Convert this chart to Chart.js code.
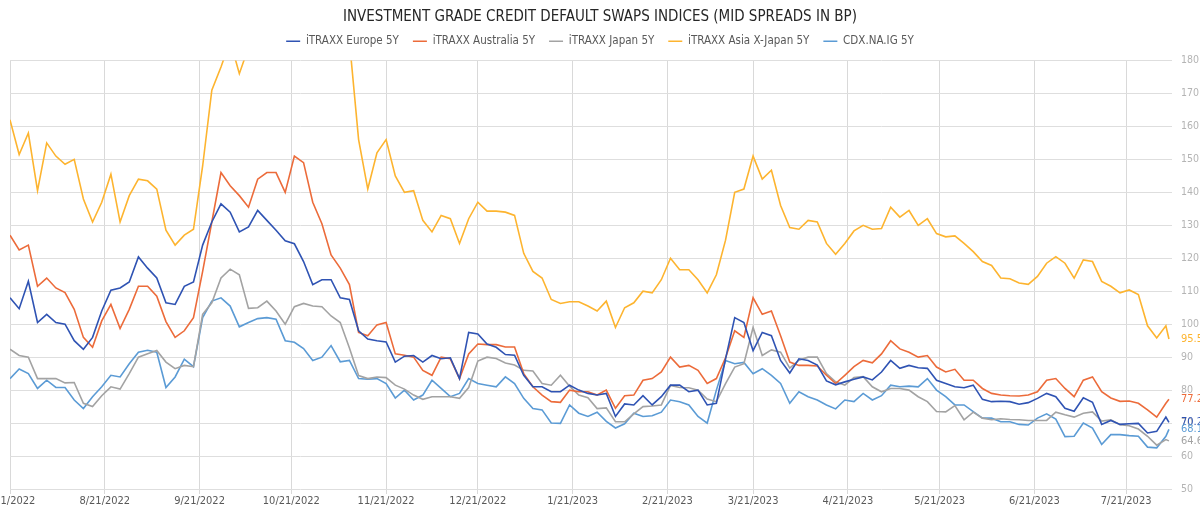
<!DOCTYPE html>
<html>
<head>
<meta charset="utf-8">
<title>Investment Grade CDS Indices</title>
<script src="https://cdn.jsdelivr.net/npm/chart.js@4.4.1/dist/chart.umd.min.js"></script>
<style>
  html, body { margin: 0; padding: 0; background: #fff; overflow: hidden; }
  /* canvas is a bit wider than the window so the first date label gets cut like in the source */
  #wrap { position: absolute; left: -40px; top: 0; width: 1240px; height: 512px; }
</style>
</head>
<body>
<div id="wrap"><canvas id="cdsChart"></canvas></div>
<script>
// days since 7/21/2022
const days = [0, 3, 6, 9, 12, 15, 18, 21, 24, 27, 30, 33, 36, 39, 42, 45, 48, 51, 54, 57,
  60, 63, 66, 69, 72, 75, 78, 81, 84, 87, 90, 93, 96, 99, 102, 105, 108, 111, 114, 117,
  120, 123, 126, 129, 132, 135, 138, 141, 144, 147, 150, 153, 156, 159, 162, 165, 168, 171, 174, 177,
  180, 183, 186, 189, 192, 195, 198, 201, 204, 207, 210, 213, 216, 219, 222, 225, 228, 231, 234, 237,
  240, 243, 246, 249, 252, 255, 258, 261, 264, 267, 270, 273, 276, 279, 282, 285, 288, 291, 294, 297,
  300, 303, 306, 309, 312, 315, 318, 321, 324, 327, 330, 333, 336, 339, 342, 345, 348, 351, 354, 357,
  360, 363, 366, 369, 372, 375, 378, 379];

const tickDays = [0, 31, 62, 92, 123, 153, 184, 215, 243, 274, 304, 335, 365];
const tickLabels = ['7/21/2022', '8/21/2022', '9/21/2022', '10/21/2022', '11/21/2022', '12/21/2022',
  '1/21/2023', '2/21/2023', '3/21/2023', '4/21/2023', '5/21/2023', '6/21/2023', '7/21/2023'];

const europe = [108, 104.7, 113, 100.5, 103, 100.5, 100, 95, 92.4, 96,
  104, 110.3, 111, 112.8, 120.4, 117, 114, 106.5, 106, 111.5,
  112.8, 124, 131, 136.5, 134, 128, 129.5, 134.5, 131.5, 128.5,
  125.3, 124.4, 119, 112, 113.5, 113.5, 108, 107.5, 98, 95.5,
  95, 94.6, 88.5, 90.3, 90.5, 88.5, 90.5, 89.5, 89.8, 83.5,
  97.5, 97, 94, 93, 90.8, 90.6, 84.5, 81, 81, 79.5,
  79.5, 81.5, 80, 79, 78.5, 79, 72, 75.8, 75.5, 78.3,
  75.5, 78, 81.5, 81.5, 79.5, 80, 75.5, 76, 89.5, 102,
  100.5, 92, 97.5, 96.5, 89, 85.2, 89.5, 89, 87.6, 82.8,
  81.6, 82.5, 83.3, 84, 83.1, 85.5, 89, 86.6, 87.5, 86.8,
  86.6, 83, 82, 81, 80.7, 81.5, 77.2, 76.5, 76.6, 76.5,
  75.7, 76.2, 77.5, 79, 78, 74.5, 73.6, 77.7, 76.3, 69.6,
  70.8, 69.6, 69.8, 69.9, 67, 67.5, 71.8, 70.2];

const australia = [127, 122.5, 124, 111.5, 114, 111, 109.6, 104.5, 96, 93,
  101, 106, 98.7, 104.5, 111.5, 111.5, 108.5, 100.8, 96, 98,
  102, 116, 131, 146, 142, 139, 135.5, 144, 146, 146,
  140, 151, 149, 137, 130.5, 121, 117, 112, 97.5, 96.5,
  99.8, 100.5, 91, 90.6, 90, 86, 84.5, 90, 89.5, 83.5,
  91, 94, 93.8, 93.8, 93.1, 93.1, 85, 81, 78.5, 76.5,
  76.3, 80, 79.5, 79.5, 78.5, 80, 74.5, 78.3, 78.5, 83,
  83.5, 85.5, 90, 87, 87.5, 86, 82, 83.5, 89.8, 98,
  96, 108, 103, 104, 96.5, 88.5, 87.5, 87.5, 87.3, 84.5,
  82, 84.5, 87.1, 89, 88.3, 91, 95, 92.5, 91.5, 90,
  90.5, 87, 85.5, 86.3, 83, 83, 80.5, 79, 78.5, 78.3,
  78.2, 78.5, 79.5, 83, 83.5, 80.5, 78, 83, 84, 79.5,
  77.6, 76.6, 76.7, 76, 74, 71.8, 76, 77.2];

const japan = [92.4, 90.5, 90, 83.5, 83.5, 83.5, 82.2, 82.3, 76, 75,
  78.3, 81, 80.3, 85, 90, 91, 92, 88.5, 86.5, 87.5,
  87.1, 103, 106.5, 114, 116.7, 115, 104.8, 105, 107, 104,
  100, 105.3, 106.3, 105.5, 105.3, 102.5, 100.5, 92.8, 84.4, 83.5,
  84, 83.8, 81.5, 80.3, 78.5, 77.2, 78, 78, 78, 77.5,
  80.8, 88.8, 90, 89.6, 88.2, 87.6, 86, 85.8, 82, 81.5,
  84.5, 81.2, 78.5, 77.7, 74.4, 74.6, 70.4, 70.4, 72.8, 75,
  75.2, 75.5, 81.4, 80.8, 80.7, 80, 77.3, 76.5, 82, 87,
  88, 99, 90.5, 92.2, 91.5, 86.7, 89.1, 90, 90, 85,
  82.5, 81.5, 83.8, 84.1, 81, 79.5, 80.5, 80.5, 80, 78,
  76.5, 73.5, 73.4, 75.3, 71, 73.3, 71.5, 71, 71.3, 71.1,
  71, 70.8, 70.8, 70.8, 73.3, 72.5, 71.8, 73, 73.4, 70.6,
  71, 69.5, 69.2, 68.2, 66, 63.3, 65, 64.6];

// values above 180 run off the top of the plot in the source
const asiaExJapan = [162, 151.5, 158, 140.5, 155, 151, 148.5, 150, 138, 131,
  137, 145.5, 131, 139, 144, 143.5, 141, 128.5, 124, 127,
  128.8, 148, 171, 178, 186, 176, 184, 190, 190, 190,
  190, 190, 190, 190, 190, 190, 190, 186, 156, 141,
  152, 156, 145, 140, 140.5, 131.5, 128, 133, 132, 124.5,
  132, 137, 134.3, 134.3, 134, 133, 121.5, 116, 114, 107.5,
  106.3, 106.8, 106.8, 105.5, 104, 107, 99, 105, 106.5, 110,
  109.5, 113.5, 120, 116.5, 116.5, 113.5, 109.5, 115, 125.5, 140,
  141, 151, 144, 146.7, 136, 129.3, 128.8, 131.5, 131, 124.5,
  121.2, 124.5, 128.3, 130, 128.8, 129, 135.5, 132.5, 134.5, 130,
  132, 127.5, 126.5, 126.8, 124.5, 122, 119, 117.8, 114, 113.8,
  112.5, 112.1, 114.5, 118.5, 120.5, 118.5, 114, 119.5, 119, 113,
  111.5, 109.5, 110.4, 109, 99.5, 95.8, 99.5, 95.5];

const cdxIG = [83.5, 86.4, 85, 80.5, 83, 80.8, 80.8, 77, 74.4, 78,
  81, 84.5, 84, 88, 91.5, 92.1, 91.5, 80.8, 84, 89.4,
  87.1, 102, 107, 108, 105.5, 99.2, 100.5, 101.7, 102, 101.5,
  95, 94.5, 92.6, 89, 90, 93.5, 88.6, 89, 83.5, 83.3,
  83.5, 82, 77.6, 80, 77, 78.5, 83, 80.5, 78, 79,
  83.5, 82, 81.5, 81, 84, 82, 77.5, 74.4, 74, 70,
  69.9, 75.5, 73, 72, 73.3, 70.5, 68.5, 69.8, 73, 72,
  72.2, 73.3, 77, 76.5, 75.5, 72, 70, 80, 89, 88,
  88.4, 85, 86.5, 84.5, 82, 76, 79.5, 78, 77, 75.5,
  74.3, 77, 76.5, 79, 77, 78.3, 81.5, 81, 81.2, 81,
  83.5, 80, 78, 75.5, 75.5, 73.5, 71.5, 71.5, 70.4, 70.4,
  69.6, 69.4, 71.5, 72.8, 71.2, 65.9, 66, 70, 68.5, 63.5,
  66.5, 66.5, 66.2, 66, 62.7, 62.5, 66, 68.1];

const FONT = "'Liberation Sans Narrow', 'DejaVu Sans Condensed', 'Roboto Condensed', 'Liberation Sans', sans-serif";
Chart.defaults.font.family = FONT;

const series = [
  { label: 'iTRAXX Europe 5Y', values: europe, color: '#2f53b3' },
  { label: 'iTRAXX Australia 5Y', values: australia, color: '#ec6b3a' },
  { label: 'iTRAXX Japan 5Y', values: japan, color: '#a3a3a3' },
  { label: 'iTRAXX Asia X-Japan 5Y', values: asiaExJapan, color: '#fdb42f' },
  { label: 'CDX.NA.IG 5Y', values: cdxIG, color: '#5b9bd5' }
];

// last value printed just right of the plot, in the series colour
const endLabels = {
  id: 'endLabels',
  afterDatasetsDraw(chart) {
    const ctx = chart.ctx;
    ctx.save();
    ctx.font = '11px ' + FONT;
    ctx.textAlign = 'left';
    ctx.textBaseline = 'middle';
    chart.data.datasets.forEach((ds, i) => {
      const pts = chart.getDatasetMeta(i).data;
      const last = pts[pts.length - 1];
      ctx.fillStyle = ds.borderColor;
      ctx.fillText(ds.data[ds.data.length - 1].y.toFixed(1), chart.chartArea.right + 9, last.y);
    });
    ctx.restore();
  }
};

// title/legend: recentre over the window (canvas is offset) and pull legend up a bit
const headerNudge = {
  id: 'headerNudge',
  afterLayout(chart) {
    [chart.titleBlock, chart.legend].forEach(box => {
      box.left -= 5;
      box.right -= 5;
    });
    chart.legend.top -= 3.5;
    chart.legend.bottom -= 3.5;
  }
};

new Chart(document.getElementById('cdsChart'), {
  type: 'line',
  data: {
    datasets: series.map(s => ({
      label: s.label,
      data: s.values.map((v, i) => ({ x: days[i], y: v })),
      borderColor: s.color,
      backgroundColor: s.color,
      borderWidth: 1.6,
      pointRadius: 0,
      tension: 0,
      fill: false
    }))
  },
  options: {
    responsive: true,
    maintainAspectRatio: false,
    animation: false,
    layout: { padding: { left: 50, right: 0, top: 0, bottom: 0 } },
    plugins: {
      title: {
        display: true,
        text: 'INVESTMENT GRADE CREDIT DEFAULT SWAPS INDICES (MID SPREADS IN BP)',
        color: '#262626',
        font: { size: 15, weight: 'normal' },
        padding: { top: 8, bottom: -1 }
      },
      legend: {
        position: 'top',
        labels: {
          usePointStyle: true,
          pointStyle: 'line',
          pointStyleWidth: 14,
          padding: 14,
          color: '#595959',
          font: { size: 11.5 }
        }
      },
      tooltip: { enabled: false }
    },
    scales: {
      x: {
        type: 'linear',
        min: 0,
        max: 380,
        afterBuildTicks: scale => { scale.ticks = tickDays.map(d => ({ value: d })); },
        afterFit: scale => { scale.height = 23; },
        ticks: {
          autoSkip: false,
          maxRotation: 0,
          padding: 1,
          color: '#595959',
          font: { size: 11 },
          callback: value => tickLabels[tickDays.indexOf(value)]
        },
        grid: { color: '#d9d9d9', lineWidth: 1, tickLength: 5 },
        border: { display: false }
      },
      y: {
        position: 'right',
        min: 50,
        max: 180,
        afterFit: scale => { scale.width = 28; },
        ticks: { stepSize: 10, padding: 9, color: '#b4b4b4', font: { size: 10.5 } },
        grid: { color: '#dedede', lineWidth: 1, drawTicks: false },
        border: { display: false }
      }
    }
  },
  plugins: [endLabels, headerNudge]
});
</script>
</body>
</html>
